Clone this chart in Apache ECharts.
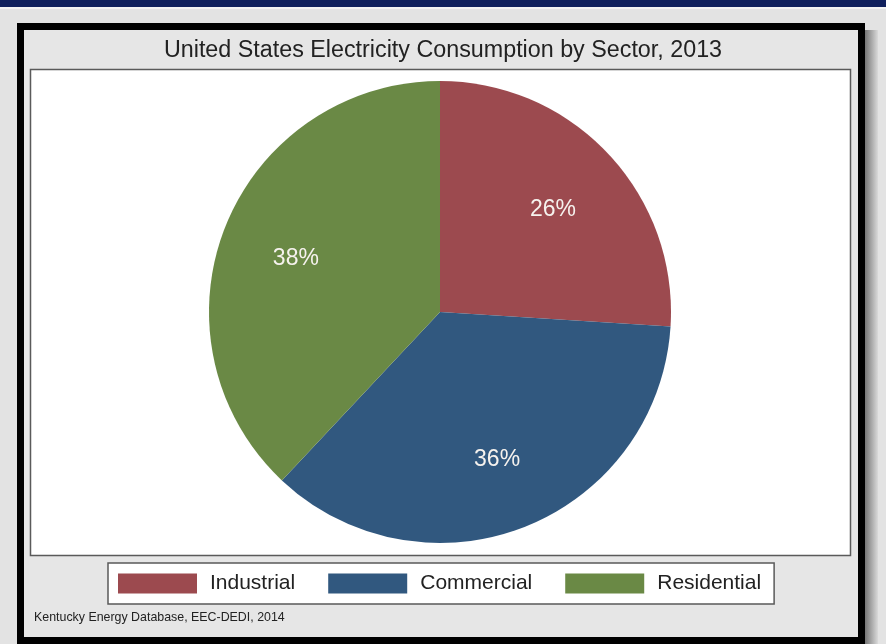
<!DOCTYPE html>
<html>
<head>
<meta charset="utf-8">
<script src="https://cdn.jsdelivr.net/npm/echarts@6/dist/echarts.min.js"></script>
<style>
html,body{margin:0;padding:0;background:#e3e3e3;}
#c{width:886px;height:644px;}
</style>
</head>
<body>
<div id="c"></div>
<script>
const categories = ['Industrial', 'Commercial', 'Residential'];
const shares = [26, 36, 38];
const colors = ['#9c4a4f', '#31587f', '#6a8945'];
const titleText = 'United States Electricity Consumption by Sector, 2013';
const sourceText = 'Kentucky Energy Database, EEC-DEDI, 2014';

const FONT = '"Liberation Sans", Arial, Helvetica, sans-serif';
const chart = echarts.init(document.getElementById('c'), null, {renderer: 'canvas'});

const pieData = categories.map((n, i) => ({name: n, value: shares[i], itemStyle: {color: colors[i]}}));
const labelData = categories.map((n, i) => ({name: n, value: shares[i]}));

chart.setOption({
  backgroundColor: '#e3e3e3',
  animation: false,
  graphic: [
    {type: 'rect', shape: {x: 0, y: 0, width: 886, height: 7}, style: {fill: '#0f1f5c'}, z: -10},
    {type: 'rect', shape: {x: 0, y: 7, width: 886, height: 2}, style: {fill: '#f2f2f2'}, z: -10},
    {type: 'rect', shape: {x: 864, y: 30, width: 14, height: 614},
      style: {fill: new echarts.graphic.LinearGradient(0, 0, 1, 0, [
        {offset: 0, color: '#6e6e6e'}, {offset: 1, color: '#dadada'}])}, z: -9},
    {type: 'rect', shape: {x: 20.5, y: 26.5, width: 841, height: 614},
      style: {fill: '#e6e6e6', stroke: '#000', lineWidth: 7}, z: -8},
    {type: 'rect', shape: {x: 30.5, y: 69.5, width: 820, height: 486},
      style: {fill: '#ffffff', stroke: '#5a5a5a', lineWidth: 1.5}, z: -7},
    {type: 'text', left: 34, top: 612,
      style: {text: sourceText, fill: '#222', font: '12.4px ' + FONT}, z: 5}
  ],
  title: {
    text: titleText,
    left: 'center',
    top: 39,
    padding: 0,
    textStyle: {fontFamily: FONT, fontSize: 23.3, fontWeight: 'normal', color: '#222'}
  },
  legend: {
    data: categories,
    left: 108,
    top: 563,
    orient: 'horizontal',
    icon: 'rect',
    itemWidth: 79,
    itemHeight: 20,
    itemGap: 33,
    padding: [10, 13, 10, 10],
    backgroundColor: '#ffffff',
    borderColor: '#5a5a5a',
    borderWidth: 1.5,
    borderRadius: 0,
    selectedMode: false,
    textStyle: {fontFamily: FONT, fontSize: 21, color: '#222', padding: [0, 0, 0, 8]}
  },
  series: [
    {
      type: 'pie',
      name: 'sectors',
      center: [440, 312],
      radius: [0, 231],
      startAngle: 90,
      clockwise: true,
      silent: true,
      label: {show: false},
      labelLine: {show: false},
      itemStyle: {borderWidth: 0},
      data: pieData
    },
    {
      type: 'pie',
      name: 'labels',
      center: [440, 312],
      radius: [73, 231],
      startAngle: 90,
      clockwise: true,
      silent: true,
      legendHoverLink: false,
      itemStyle: {color: 'rgba(0,0,0,0)', borderWidth: 0},
      label: {
        show: true,
        position: 'inside',
        offset: [0, 4],
        formatter: p => p.value + '%',
        fontFamily: FONT,
        fontSize: 23,
        color: '#f6f2ee'
      },
      labelLine: {show: false},
      data: labelData
    }
  ]
});
</script>
</body>
</html>
